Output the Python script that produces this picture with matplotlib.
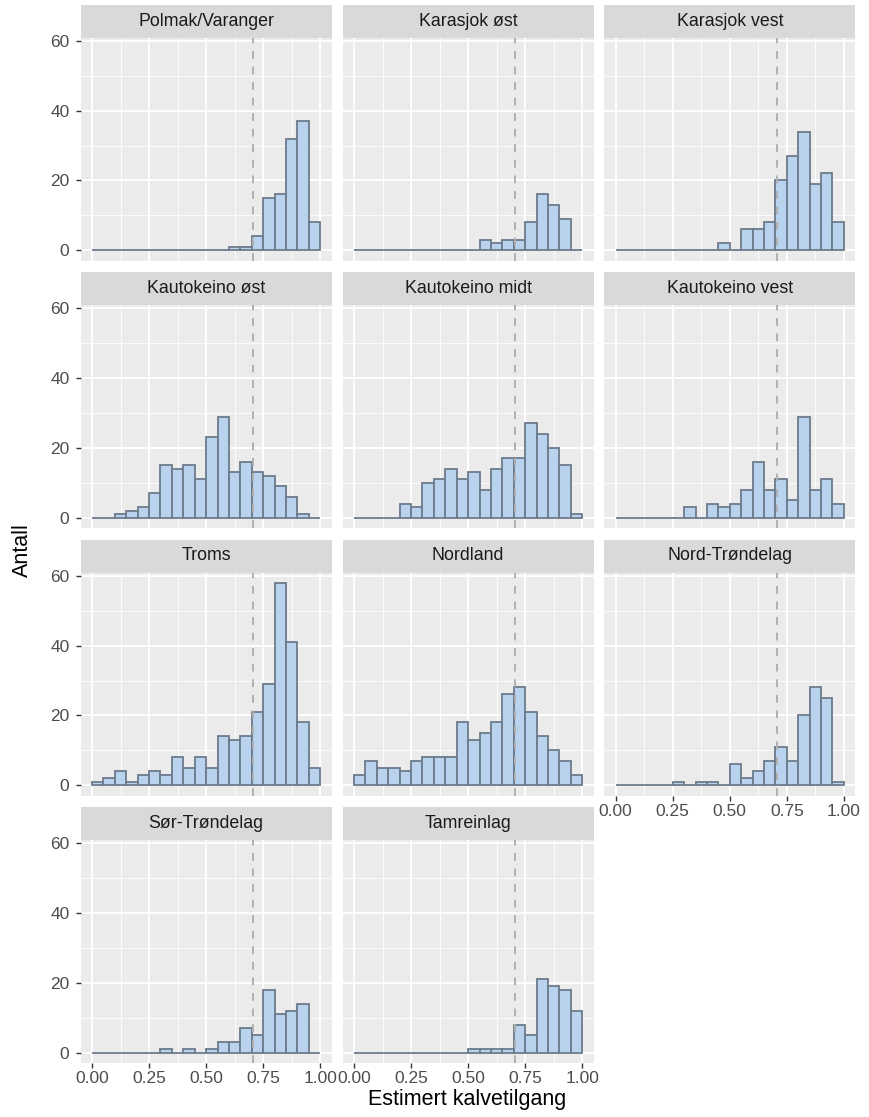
import numpy as np
import matplotlib
matplotlib.use("Agg")
import matplotlib.pyplot as plt

plt.rcParams['font.family'] = ['Liberation Sans', 'DejaVu Sans']

# Områder og antall per bin (20 bins på [0, 1])
omrader = ["Polmak/Varanger", "Karasjok øst", "Karasjok vest",
           "Kautokeino øst", "Kautokeino midt", "Kautokeino vest",
           "Troms", "Nordland", "Nord-Trøndelag",
           "Sør-Trøndelag", "Tamreinlag"]

polmak_varanger = [0, 0, 0, 0, 0, 0, 0, 0, 0, 0, 0, 0, 1, 1, 4, 15, 16, 32, 37, 8]
karasjok_ost = [0, 0, 0, 0, 0, 0, 0, 0, 0, 0, 0, 3, 2, 3, 3, 8, 16, 13, 9, 0]
karasjok_vest = [0, 0, 0, 0, 0, 0, 0, 0, 0, 2, 0, 6, 6, 8, 20, 27, 34, 19, 22, 8]
kautokeino_ost = [0, 0, 1, 2, 3, 7, 15, 14, 15, 11, 23, 29, 13, 16, 13, 12, 9, 6, 1, 0]
kautokeino_midt = [0, 0, 0, 0, 4, 3, 10, 11, 14, 11, 13, 8, 14, 17, 17, 27, 24, 20, 15, 1]
kautokeino_vest = [0, 0, 0, 0, 0, 0, 3, 0, 4, 3, 4, 8, 16, 8, 11, 5, 29, 8, 11, 4]
troms = [1, 2, 4, 1, 3, 4, 3, 8, 5, 8, 5, 14, 13, 14, 21, 29, 58, 41, 18, 5]
nordland = [3, 7, 5, 5, 4, 7, 8, 8, 8, 18, 13, 15, 18, 26, 28, 21, 14, 10, 7, 3]
nord_trondelag = [0, 0, 0, 0, 0, 1, 0, 1, 1, 0, 6, 2, 4, 7, 11, 7, 20, 28, 25, 1]
sor_trondelag = [0, 0, 0, 0, 0, 0, 1, 0, 1, 0, 1, 3, 3, 7, 5, 18, 11, 12, 14, 0]
tamreinlag = [0, 0, 0, 0, 0, 0, 0, 0, 0, 0, 1, 1, 1, 1, 8, 5, 21, 19, 18, 12]

antall = [polmak_varanger, karasjok_ost, karasjok_vest,
          kautokeino_ost, kautokeino_midt, kautokeino_vest,
          troms, nordland, nord_trondelag,
          sor_trondelag, tamreinlag]

bin_bredde = 0.05
bin_start = np.arange(20) * bin_bredde
vlinje = 0.707

x_ticks = [0, 0.25, 0.5, 0.75, 1.0]
x_ticklabels = ["0.00", "0.25", "0.50", "0.75", "1.00"]
y_ticks = [0, 20, 40, 60]

# Layout i piksler
W, H = 869, 1117
fig = plt.figure(figsize=(W/100, H/100), dpi=100)
kol_venstre = [80.6, 342.6, 604.3]
panel_b = 251
rad_topp = [37.5, 305, 572.5, 840]
panel_h = 223
strip_h = 33

ymaks = max(max(a) for a in antall)
ylim = (-0.05*ymaks, ymaks*1.05)

for i, (navn, verdier) in enumerate(zip(omrader, antall)):
    rad, kol = divmod(i, 3)
    x0 = kol_venstre[kol]
    y0 = rad_topp[rad]
    ax = fig.add_axes([x0/W, 1 - (y0 + panel_h)/H, panel_b/W, panel_h/H])
    ax.set_facecolor("#EBEBEB")
    for s in ax.spines.values():
        s.set_visible(False)

    ax.bar(bin_start, verdier, width=bin_bredde, align='edge',
           color="#B9D3EE", edgecolor="#6C7B8B", linewidth=1.3, zorder=3)
    ax.axvline(vlinje, color="#B0B0B0", linestyle=(0, (4, 4)), linewidth=1.4, zorder=4)

    ax.set_xlim(-0.05, 1.05)
    ax.set_ylim(*ylim)
    ax.set_xticks(x_ticks)
    ax.set_xticks([0.125, 0.375, 0.625, 0.875], minor=True)
    ax.set_yticks(y_ticks)
    ax.set_yticks([10, 30, 50], minor=True)
    ax.grid(which='major', color='white', linewidth=1.3, zorder=0)
    ax.grid(which='minor', color='white', linewidth=0.6, zorder=0)
    ax.set_axisbelow(True)
    ax.tick_params(which='minor', length=0)
    ax.tick_params(which='major', color="#333333", length=3.5, width=1.0,
                   labelsize=12.5, labelcolor="#4D4D4D")
    ax.tick_params(axis='x', pad=2.5)
    ax.tick_params(axis='y', pad=4.5)

    if kol == 0:
        ax.set_yticklabels([str(v) for v in y_ticks])
    else:
        ax.tick_params(axis='y', length=0, labelleft=False)
    nederst = (rad == 3) or (rad == 2 and kol == 2)
    if nederst:
        ax.set_xticklabels(x_ticklabels)
    else:
        ax.tick_params(axis='x', length=0, labelbottom=False)

    # Stripe med navn
    sax = fig.add_axes([x0/W, 1 - y0/H, panel_b/W, strip_h/H])
    sax.set_facecolor("#D9D9D9")
    sax.set_xticks([])
    sax.set_yticks([])
    for s in sax.spines.values():
        s.set_visible(False)
    sax.text(0.5, 0.5, navn, ha='center', va='center', fontsize=12.8,
             color="#1A1A1A", transform=sax.transAxes)

fig.text(467.6/W, 1 - 1100/H, "Estimert kalvetilgang", ha='center', va='center',
         fontsize=15.5, color='black')
fig.text(22/W, 1 - 550/H, "Antall", ha='center', va='center', rotation=90,
         fontsize=15.5, color='black')

fig.savefig("out.png", dpi=100)
